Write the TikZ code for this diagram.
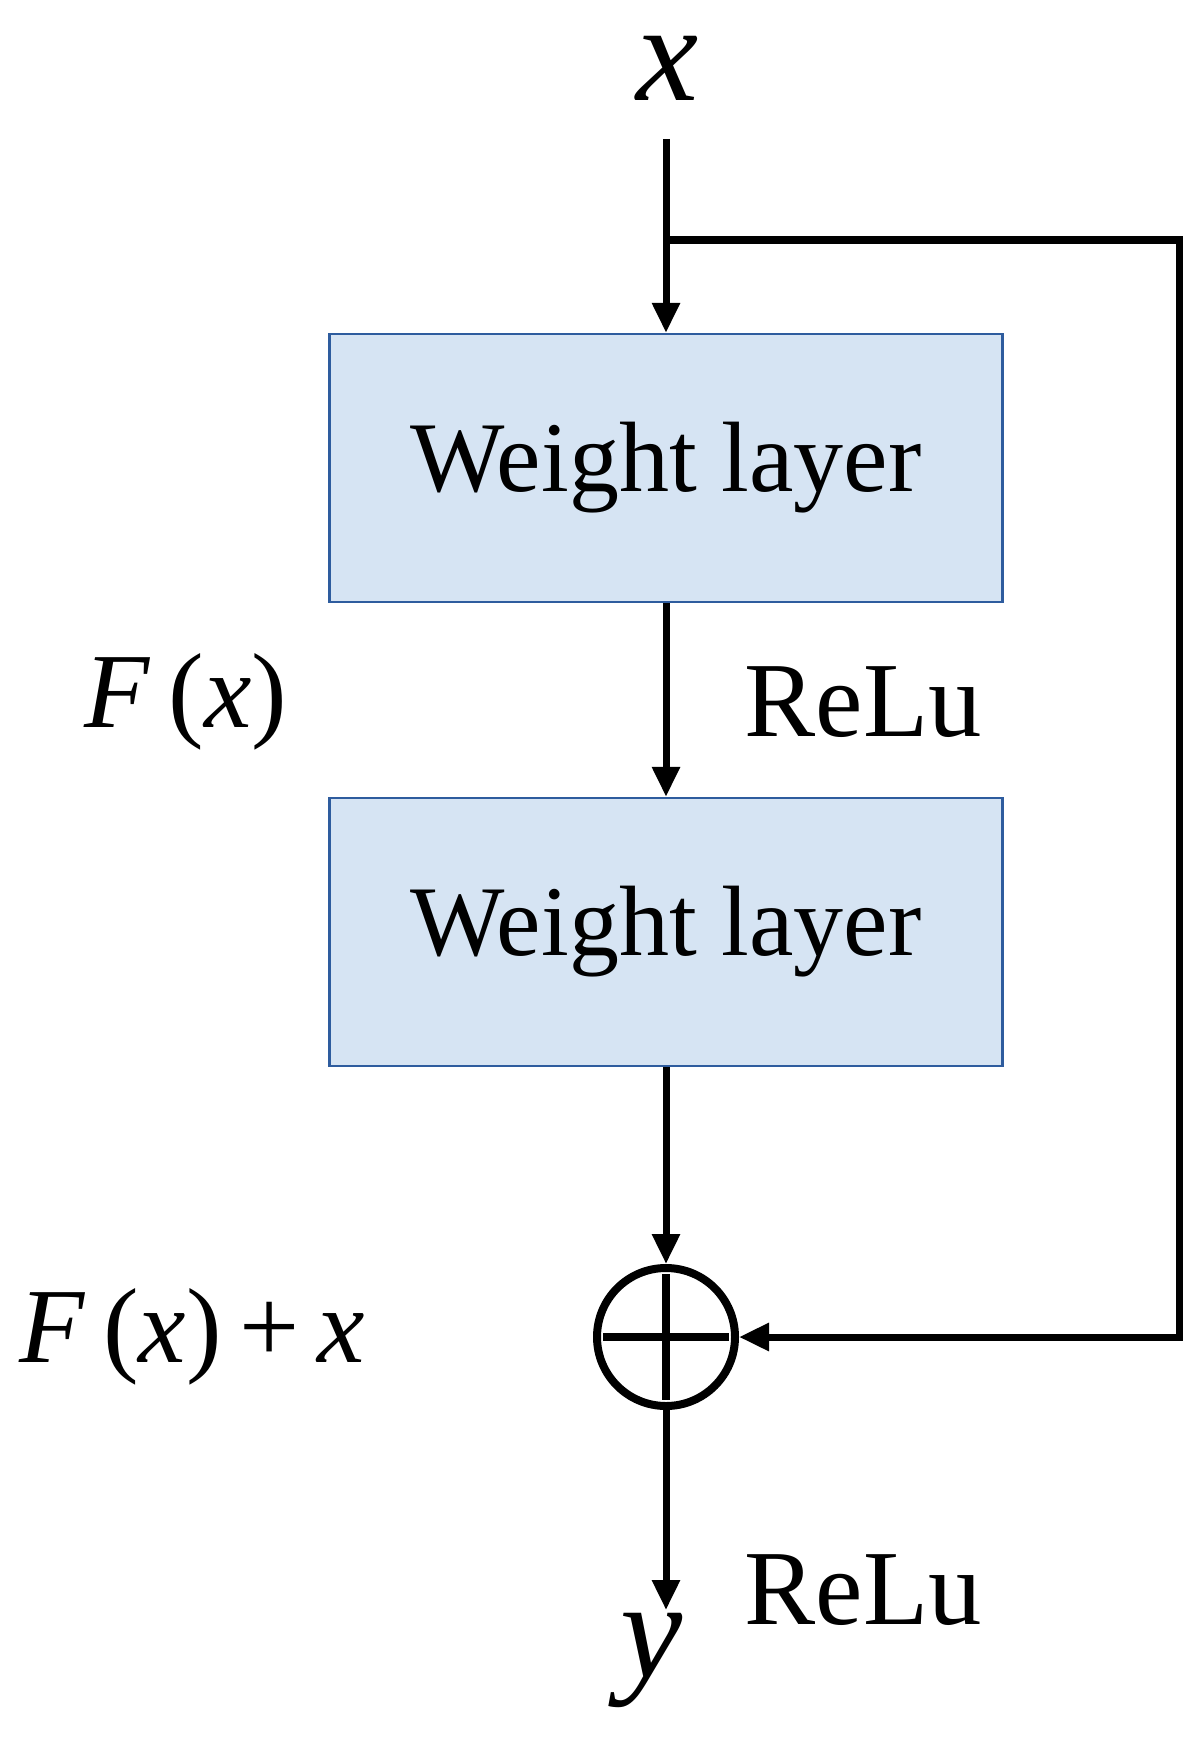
\documentclass[tikz,border=0pt]{standalone}
\usepackage{fontspec}
\setmainfont{Liberation Serif}
\usetikzlibrary{arrows.meta,calc}
\definecolor{boxfill}{HTML}{D6E4F3}
\definecolor{boxdraw}{HTML}{2E5C9E}
\begin{document}
\begin{tikzpicture}[x=0.3pt,y=-0.3pt,
  line width=2.1pt,
  arr/.style={-{Triangle[length=9pt,width=8pt]}},
  box/.style={draw=boxdraw,line width=0.7pt,fill=boxfill,minimum width=673*0.3pt,minimum height=268*0.3pt,font=\fontsize{30}{34}\selectfont},
  lbl/.style={font=\fontsize{32}{36}\selectfont},
  var/.style={font=\fontsize{42}{46}\selectfont\itshape}]
\useasboundingbox (0,0) rectangle (1203,1744);
\node[var] (x) at (668,68) {x};
\coordinate (top) at (666,139);
\coordinate (br) at (666,240);
\coordinate (rt) at (1179,240);
\coordinate (rb) at (1179,1337);
\node[box] (w1) at (666,468) {Weight layer};
\node[box] (w2) at (666,932) {Weight layer};
\node[circle,draw,line width=2.4pt,minimum size=138*0.3pt,inner sep=0pt] (sum) at (666,1337) {};
\draw[line width=2.4pt] ($(sum.north)+(0,10)$) -- ($(sum.south)+(0,-10)$);
\draw[line width=2.4pt] ($(sum.west)+(10,0)$) -- ($(sum.east)+(-10,0)$);
\coordinate (bot) at (666,1610);
\node[var] (y) at (652,1660) {y};
\draw (top) -- (br);
\draw[arr] (br) -- (w1.north);
\draw[arr] (w1.south) -- (w2.north);
\draw[arr] (w2.south) -- (sum.north);
\draw[arr] (br) -- (rt) -- (rb) -- (sum.east);
\draw[arr] (sum.south) -- (bot);
\node[lbl] (fx) at (186,702) {\textit{F}\,(\textit{x})};
\node[lbl] (r1) at (863,702) {ReLu};
\node[lbl] (fxx) at (192,1337) {\textit{F}\,(\textit{x})\,+\,\textit{x}};
\node[lbl] (r2) at (863,1590) {ReLu};
\end{tikzpicture}
\end{document}
